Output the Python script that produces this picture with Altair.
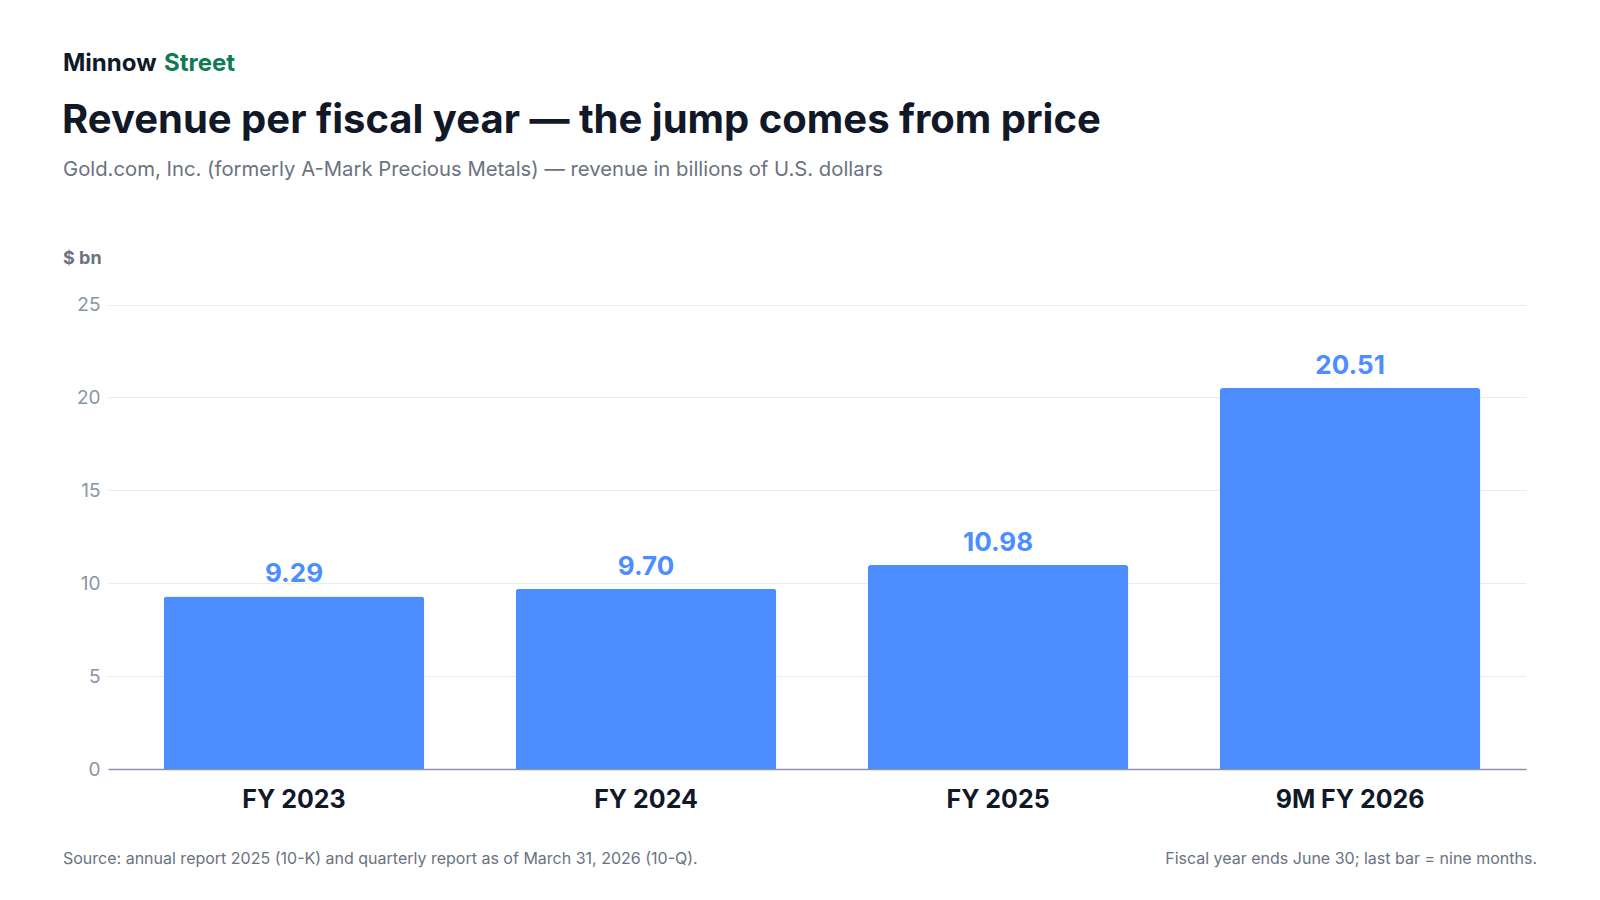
import altair as alt
import pandas as pd

years = ["FY 2023", "FY 2024", "FY 2025", "9M FY 2026"]
revenue = [9.29, 9.70, 10.98, 20.51]
y_ticks = [0, 5, 10, 15, 20, 25]

df = pd.DataFrame({"year": years, "revenue": revenue})

FONT = "Inter"
BLUE = "#4C8DFF"
DARK = "#111827"
GREY = "#6B7280"

base = alt.Chart(df)

x = alt.X("year:N", sort=years, title=None,
          scale=alt.Scale(paddingInner=0.26, paddingOuter=0.144, align=0.55),
          axis=alt.Axis(labelFont=FONT, labelFontSize=25, labelFontWeight="bold",
                        labelColor=DARK, labelAngle=0, labelPadding=18, ticks=False,
                        domainColor="#8A94A6", domainWidth=1.5))
y = alt.Y("revenue:Q", title=None, scale=alt.Scale(domain=[0, 25]),
          axis=alt.Axis(values=y_ticks, labelFont=FONT, labelFontSize=19,
                        labelColor="#8A94A6", labelPadding=8, ticks=False,
                        domain=False, gridColor="#E9EBEF"))

bars = base.mark_bar(color=BLUE, cornerRadiusTopLeft=3, cornerRadiusTopRight=3).encode(x=x, y=y)
labels = base.mark_text(dy=-22, font=FONT, fontSize=26, fontWeight="bold", color=BLUE).encode(
    x=alt.X("year:N", sort=years), y="revenue:Q", text=alt.Text("revenue:Q", format=".2f"))


def txt(s, xp, yp, size, color, weight="normal", align="left"):
    return alt.Chart(pd.DataFrame({"t": [s]})).mark_text(
        font=FONT, fontSize=size, color=color, fontWeight=weight, align=align, baseline="middle"
    ).encode(text="t:N", x=alt.value(xp), y=alt.value(yp))


notes = [
    txt("Minnow", -45, -222, 24, DARK, "bold"),
    txt("Street", 56, -222, 24, "#0F7B55", "bold"),
    txt("Revenue per fiscal year — the jump comes from price", -46, -165, 40, DARK, "bold"),
    txt("Gold.com, Inc. (formerly A-Mark Precious Metals) — revenue in billions of U.S. dollars",
        -45, -116, 20.3, GREY),
    txt("$ bn", -45, -27, 18, GREY, "bold"),
    txt("Source: annual report 2025 (10-K) and quarterly report as of March 31, 2026 (10-Q).",
        -45, 573, 16, GREY),
    txt("Fiscal year ends June 30; last bar = nine months.", 1429, 573, 16, GREY, align="right"),
]

chart = alt.layer(bars, labels, *notes).properties(
    width=1418, height=483,
    autosize=alt.AutoSizeParams(type="none"),
    padding={"left": 100, "top": 278, "right": 66, "bottom": 110},
    background="white",
).configure_view(stroke=None)

chart.save("out.html", embed_options={"renderer": "svg", "actions": False})
